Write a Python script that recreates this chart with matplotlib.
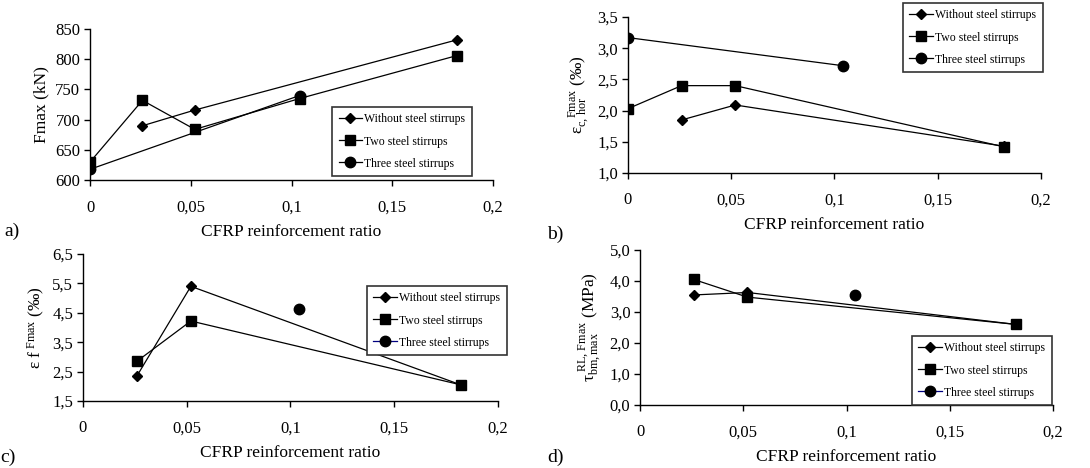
import matplotlib
matplotlib.use("Agg")
import matplotlib.pyplot as plt
from matplotlib.lines import Line2D

plt.rcParams['font.family'] = ['Liberation Serif', 'DejaVu Serif']
plt.rcParams['mathtext.fontset'] = 'custom'
plt.rcParams['mathtext.rm'] = 'Liberation Serif'
plt.rcParams['mathtext.it'] = 'Liberation Serif:italic'

names = ['Without steel stirrups', 'Two steel stirrups', 'Three steel stirrups']
markers = ['D', 's', 'o']
msizes = [5.5, 7, 7.5]

# a) Fmax (kN)
a_x = [[0.026, 0.052, 0.182], [0, 0.026, 0.052, 0.104, 0.182], [0, 0.104]]
a_y = [[690, 716, 832], [630, 732, 684, 735, 806], [618, 740]]
# b) eps c,hor (per mille)
b_x = [[0.026, 0.052, 0.182], [0, 0.026, 0.052, 0.182], [0, 0.104]]
b_y = [[1.85, 2.09, 1.43], [2.03, 2.40, 2.40, 1.42], [3.17, 2.72]]
# c) eps f (per mille)
c_x = [[0.026, 0.052, 0.182], [0.026, 0.052, 0.182], [0.104]]
c_y = [[2.35, 5.40, 2.05], [2.85, 4.22, 2.05], [4.62]]
# d) tau bm,max (MPa)
d_x = [[0.026, 0.052, 0.182], [0.026, 0.052, 0.182], [0.104]]
d_y = [[3.55, 3.63, 2.60], [4.05, 3.48, 2.60], [3.55]]

x_ticks = [0, 0.05, 0.1, 0.15, 0.2]
x_labels = ['0', '0,05', '0,1', '0,15', '0,2']
a_ticks = [600, 650, 700, 750, 800, 850]
b_ticks = [1.0, 1.5, 2.0, 2.5, 3.0, 3.5]
c_ticks = [1.5, 2.5, 3.5, 4.5, 5.5, 6.5]
d_ticks = [0, 1, 2, 3, 4, 5]

fig = plt.figure(figsize=(10.9, 4.68), dpi=100)

panels = [
    ([0.0826, 0.615, 0.3697, 0.323], a_x, a_y, a_ticks, [str(v) for v in a_ticks],
     'Fmax (kN)', (0.3046, 0.7714), 'black', 'a)', (0.004, 0.495)),
    ([0.576, 0.6303, 0.379, 0.3334], b_x, b_y, b_ticks, ['1,0', '1,5', '2,0', '2,5', '3,0', '3,5'],
     r'$\mathrm{ε}_{\mathrm{c,\,hor}}^{\quad\mathrm{Fmax}}$ (‰)', (0.8284, 0.9936), 'black', 'b)', (0.502, 0.49)),
    ([0.0761, 0.1432, 0.3808, 0.3141], c_x, c_y, c_ticks, ['1,5', '2,5', '3,5', '4,5', '5,5', '6,5'],
     r'$\mathrm{ε}\ \mathrm{f}^{\ \mathrm{Fmax}}$ (‰)', (0.3367, 0.3889), '#000080', 'c)', (0.0, 0.012)),
    ([0.5872, 0.1346, 0.3789, 0.3312], d_x, d_y, d_ticks, ['0,0', '1,0', '2,0', '3,0', '4,0', '5,0'],
     r'$\mathrm{τ}_{\mathrm{bm,max}}^{\ \mathrm{RL,\,Fmax}}$ (MPa)', (0.8367, 0.2821), '#000080', 'd)', (0.502, 0.012)),
]

for rect, xs, ys, yt, ytl, ylab, leg_pos, third_col, letter, lpos in panels:
    ax = fig.add_axes(rect)
    for i in range(3):
        ax.plot(xs[i], ys[i], color='black', lw=0.9, marker=markers[i],
                ms=msizes[i], mfc='black', mec='black')
    ax.set_xlim(0, 0.2)
    ax.set_ylim(yt[0], yt[-1])
    ax.set_xticks(x_ticks)
    ax.set_xticklabels(x_labels)
    ax.set_yticks(yt)
    ax.set_yticklabels(ytl)
    for s in ['top', 'right']:
        ax.spines[s].set_visible(False)
    for s in ['left', 'bottom']:
        ax.spines[s].set_linewidth(1.0)
    ax.tick_params(axis='both', direction='out', length=4, width=1, labelsize=12)
    ax.tick_params(axis='x', pad=10)
    ax.tick_params(axis='y', pad=3)
    ax.set_xlabel('CFRP reinforcement ratio', fontsize=12.5, labelpad=6)
    ax.set_ylabel(ylab, fontsize=12.5, labelpad=4)
    for sp in ax.spines.values():
        sp.set_clip_on(False)
    handles = [Line2D([], [], color=(third_col if i == 2 else 'black'), lw=0.9,
                      marker=markers[i], ms=msizes[i], mfc='black', mec='black')
               for i in range(3)]
    leg = ax.legend(handles, names, loc='upper left', bbox_to_anchor=leg_pos,
                    bbox_transform=fig.transFigure, fontsize=8.5, frameon=True,
                    fancybox=False, edgecolor='#333333', framealpha=1,
                    handlelength=2.0, handletextpad=0.2, labelspacing=0.85,
                    borderpad=0.55, borderaxespad=0)
    leg.get_frame().set_linewidth(1.2)
    fig.text(lpos[0], lpos[1], letter, fontsize=14)

fig.savefig('out.png', dpi=100)
